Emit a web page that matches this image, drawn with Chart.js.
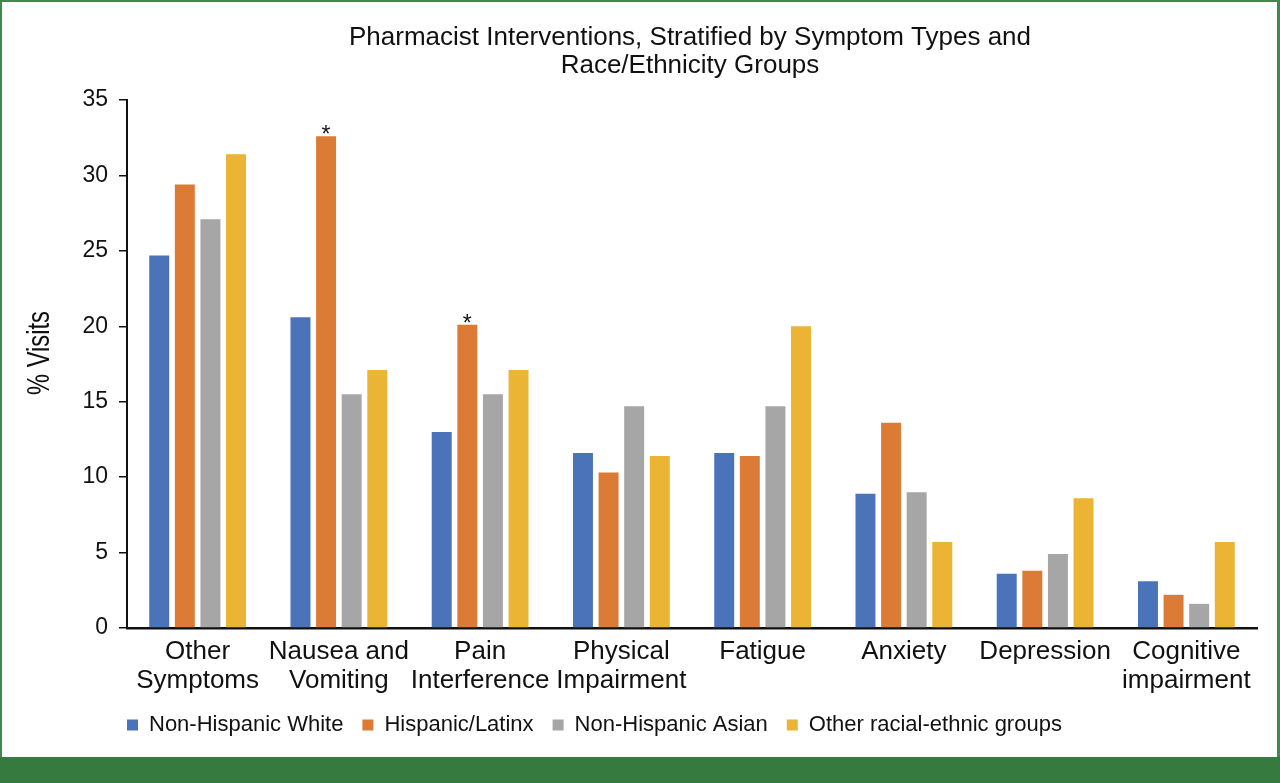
<!DOCTYPE html>
<html>
<head>
<meta charset="utf-8">
<title>Pharmacist Interventions</title>
<script src="https://cdn.jsdelivr.net/npm/chart.js@4.4.1/dist/chart.umd.min.js"></script>
<style>
  html, body { margin: 0; padding: 0; background: #fff; }
  #page { position: relative; width: 1280px; height: 783px; background: #367a3f; overflow: hidden; }
  #panel {
    position: absolute; left: 0; top: 0; width: 1280px; height: 757px;
    box-sizing: border-box; background: #fefffe;
    border: 2px solid #3e8a4c; border-right-width: 3px; border-bottom: none;
  }
  #chart { position: absolute; left: 0; top: 0; }
</style>
</head>
<body>
<div id="page">
  <div id="panel"></div>
  <canvas id="chart" width="1280" height="757"></canvas>
</div>
<script>
// ---- data ----
const categories = [
  ['Other', 'Symptoms'],
  ['Nausea and', 'Vomiting'],
  ['Pain', 'Interference'],
  ['Physical', 'Impairment'],
  'Fatigue',
  'Anxiety',
  'Depression',
  ['Cognitive', 'impairment']
];
const nonHispanicWhite = [24.7, 20.6, 13.0, 11.6, 11.6, 8.9, 3.6, 3.1];
const hispanicLatinx   = [29.4, 32.6, 20.1, 10.3, 11.4, 13.6, 3.8, 2.2];
const nonHispanicAsian = [27.1, 15.5, 15.5, 14.7, 14.7, 9.0, 4.9, 1.6];
const otherGroups      = [31.4, 17.1, 17.1, 11.4, 20.0, 5.7, 8.6, 5.7];
// asterisk above the Hispanic/Latinx bar
const significant = [false, true, true, false, false, false, false, false];

const titleLines = ['Pharmacist Interventions, Stratified by Symptom Types and', 'Race/Ethnicity Groups'];
const yTitle = '% Visits';

const REG = '"Liberation Sans", Arial, sans-serif';
const INK = '#111';
const LEGEND_PAD = 19;

// title, y title, asterisks, and legend pulled back to the axis line
const annotate = {
  id: 'annotate',
  afterLayout(chart) {
    const lg = chart.legend;
    const w = lg.right - lg.left;
    lg.left = chart.chartArea.left - LEGEND_PAD;
    lg.right = lg.left + w;
  },
  afterDraw(chart) {
    const ctx = chart.ctx;
    const area = chart.chartArea;

    ctx.save();
    ctx.fillStyle = INK;
    ctx.textAlign = 'center';
    ctx.textBaseline = 'alphabetic';
    ctx.font = '26px ' + REG;
    const cx = (area.left + area.right) / 2 - 2;
    titleLines.forEach((t, i) => ctx.fillText(t, cx, 45 + i * 28));
    ctx.restore();

    // condensed, taller axis title like the original
    ctx.save();
    ctx.fillStyle = INK;
    ctx.translate(40, (area.top + area.bottom) / 2 - 11);
    ctx.rotate(-Math.PI / 2);
    ctx.scale(0.74, 1);
    ctx.textAlign = 'center';
    ctx.textBaseline = 'middle';
    ctx.font = '32px ' + REG;
    ctx.fillText(yTitle, 0, 0);
    ctx.restore();

    const meta = chart.getDatasetMeta(1);
    ctx.save();
    ctx.fillStyle = INK;
    ctx.textAlign = 'center';
    ctx.textBaseline = 'alphabetic';
    ctx.font = '23px ' + REG;
    meta.data.forEach((bar, i) => {
      if (significant[i]) ctx.fillText('*', bar.x, bar.y + 6);
    });
    ctx.restore();
  }
};

function series(label, data, color) {
  return {
    label: label,
    data: data,
    backgroundColor: color,
    borderWidth: 0,
    categoryPercentage: 0.725,
    barPercentage: 0.78
  };
}

new Chart(document.getElementById('chart'), {
  type: 'bar',
  data: {
    labels: categories,
    datasets: [
      series('Non-Hispanic White', nonHispanicWhite, '#4a73b9'),
      series('Hispanic/Latinx', hispanicLatinx, '#db7b35'),
      series('Non-Hispanic Asian', nonHispanicAsian, '#a6a6a6'),
      series('Other racial-ethnic groups', otherGroups, '#ebb434')
    ]
  },
  options: {
    responsive: false,
    animation: false,
    events: [],
    layout: { padding: { top: 100, right: 23, bottom: 11, left: 20 } },
    plugins: {
      title: { display: false },
      tooltip: { enabled: false },
      legend: {
        position: 'bottom',
        align: 'start',
        fullSize: false,
        labels: {
          boxWidth: 11,
          boxHeight: 11,
          padding: LEGEND_PAD,
          color: INK,
          font: { family: REG, size: 22 }
        }
      }
    },
    scales: {
      x: {
        ticks: {
          autoSkip: false,
          maxRotation: 0,
          minRotation: 0,
          padding: 10,
          color: INK,
          font: { family: REG, size: 26, lineHeight: 1.1 }
        },
        grid: { display: true, drawOnChartArea: false, drawTicks: false },
        border: { display: true, color: INK, width: 2.5 },
        afterFit(scale) { scale.height = 67; }
      },
      y: {
        min: 0,
        max: 35,
        ticks: {
          stepSize: 5,
          padding: 11,
          color: INK,
          font: { family: REG, size: 23 }
        },
        grid: { drawOnChartArea: false, drawTicks: true, tickLength: 8, color: INK, lineWidth: 1.5 },
        border: { display: true, color: INK, width: 2 },
        afterFit(scale) { scale.width = 107; }
      }
    }
  },
  plugins: [annotate]
});
</script>
</body>
</html>
